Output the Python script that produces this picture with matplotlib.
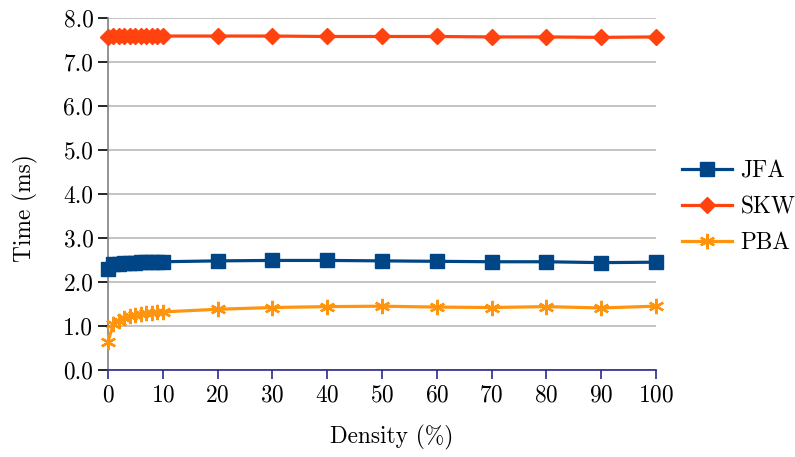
import numpy as np
import matplotlib.pyplot as plt

# density (%) sample points
density = [0, 1, 2, 3, 4, 5, 6, 7, 8, 9, 10, 20, 30, 40, 50, 60, 70, 80, 90, 100]

jfa = [2.30, 2.40, 2.42, 2.43, 2.44, 2.44, 2.45, 2.45, 2.45, 2.45, 2.46,
       2.48, 2.49, 2.49, 2.48, 2.47, 2.46, 2.46, 2.44, 2.45]
skw = [7.57, 7.59, 7.59, 7.59, 7.59, 7.59, 7.59, 7.59, 7.59, 7.59, 7.59,
       7.59, 7.59, 7.58, 7.58, 7.58, 7.57, 7.57, 7.56, 7.57]
pba = [0.64, 1.05, 1.12, 1.18, 1.22, 1.25, 1.27, 1.29, 1.30, 1.31, 1.32,
       1.38, 1.42, 1.44, 1.45, 1.43, 1.42, 1.44, 1.41, 1.45]

series = [
    ("JFA", jfa, "#004586", "s", 9.5),
    ("SKW", skw, "#ff420e", "D", 8),
    ("PBA", pba, "#ff950e", (6, 2, 0), 11),
]

plt.rcParams["font.family"] = ["cmr10", "DejaVu Serif"]
plt.rcParams["mathtext.fontset"] = "cm"
plt.rcParams["axes.formatter.use_mathtext"] = True

FS = 16.8

fig = plt.figure(figsize=(7.95, 4.57), dpi=100)
ax = fig.add_axes([0.1358, 0.1904, 0.825 - 0.1358, 0.9606 - 0.1904])

for label, values, color, marker, ms in series:
    ax.plot(density, values, color=color, lw=2.3, marker=marker, ms=ms,
            mew=1.7 if label == "PBA" else 1, mec=color, mfc=color,
            label=label, clip_on=False, zorder=3)

ax.set_xlim(0, 100)
ax.set_ylim(0, 8)
ax.set_xticks(np.arange(0, 101, 10))
ax.set_yticks(np.arange(0, 8.1, 1.0))
ax.yaxis.set_major_formatter(plt.FormatStrFormatter("%.1f"))

ax.grid(axis="y", color="#b3b3b3", lw=1.1)
ax.set_axisbelow(True)
for side in ("top", "right"):
    ax.spines[side].set_visible(False)
ax.spines["left"].set_color("#808080")
ax.spines["left"].set_linewidth(1.2)
ax.spines["bottom"].set_color("#2a2a8a")
ax.spines["bottom"].set_linewidth(1.2)
ax.spines["bottom"].set_zorder(4)
ax.tick_params(axis="x", colors="#2a2a8a", labelcolor="black", length=6.5,
               width=1.2, labelsize=FS, pad=4)
ax.tick_params(axis="y", colors="black", length=7, width=1.2,
               labelsize=FS, pad=3.5)

ax.set_xlabel("Density (%)", fontsize=FS)
ax.set_ylabel("Time (ms)", fontsize=FS)
ax.xaxis.set_label_coords(0.518, -0.155)
ax.yaxis.set_label_coords(-0.128, 0.46)

ax.legend(loc="center left", bbox_to_anchor=(682 / 795, 1 - 207 / 457),
          bbox_transform=fig.transFigure, borderaxespad=0, borderpad=0,
          frameon=False, fontsize=FS, handlelength=2.15,
          labelspacing=0.58, handletextpad=0.35)

fig.savefig("out.png", dpi=100)
